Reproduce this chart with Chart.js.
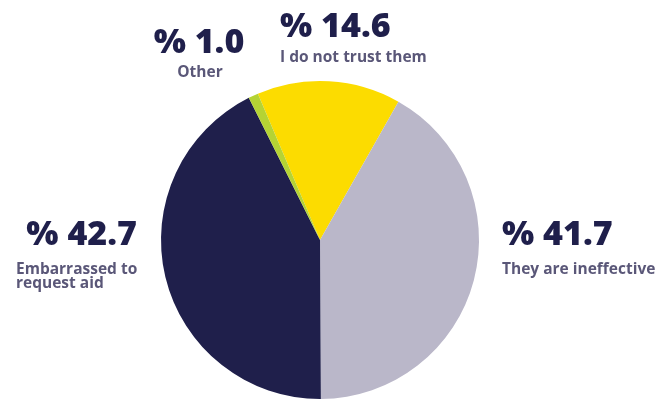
<!DOCTYPE html>
<html>
<head>
<meta charset="utf-8">
<script src="https://cdn.jsdelivr.net/npm/chart.js@4/dist/chart.umd.min.js"></script>
<style>
  body { margin: 0; background: #ffffff; }
  #wrap { width: 660px; height: 401px; position: relative; }
</style>
</head>
<body>
<div id="wrap"><canvas id="reasonsChart"></canvas></div>
<script>
// Reasons for not turning to aid organisations (percent)
const categories = ['I do not trust them', 'They are ineffective', 'Embarrassed to\nrequest aid', 'Other'];
const shares = [14.6, 41.7, 42.7, 1.0];
const sliceColors = ['#fcdc00', '#bab7c9', '#1f1f4b', '#b5d334'];

// Callout placement: value text (x, baseline, align) and caption (x, baseline, align)
const calloutSpots = [
  { vx: 280, vy: 37, vAlign: 'left', lx: 280, ly: 62, lAlign: 'left' },
  { vx: 502, vy: 245, vAlign: 'left', lx: 502, ly: 274, lAlign: 'left' },
  { vx: 137, vy: 245, vAlign: 'right', lx: 16, ly: 274, lAlign: 'left' },
  { vx: 199, vy: 53, vAlign: 'center', lx: 200, ly: 77, lAlign: 'center' }
];

const calloutPlugin = {
  id: 'callouts',
  afterDraw(chart) {
    const ctx = chart.ctx;
    const ds = chart.data.datasets[0];
    ctx.save();
    ctx.textBaseline = 'alphabetic';
    chart.data.labels.forEach((label, i) => {
      const spot = calloutSpots[i];
      ctx.textAlign = spot.vAlign;
      ctx.fillStyle = '#1f1f4b';
      ctx.font = '800 34px "Open Sans", sans-serif';
      ctx.fillText('% ' + ds.data[i].toFixed(1), spot.vx, spot.vy);
      ctx.textAlign = spot.lAlign;
      ctx.fillStyle = '#5a5778';
      ctx.font = 'bold 15.5px "Open Sans", sans-serif';
      label.split('\n').forEach((line, j) => {
        ctx.fillText(line, spot.lx, spot.ly + j * 13.5);
      });
    });
    ctx.restore();
  }
};

new Chart(document.getElementById('reasonsChart'), {
  type: 'pie',
  data: {
    labels: categories,
    datasets: [{
      data: shares,
      backgroundColor: sliceColors,
      borderWidth: 0
    }]
  },
  options: {
    responsive: true,
    maintainAspectRatio: false,
    animation: false,
    rotation: -23,
    layout: { padding: { left: 161, right: 181, top: 81, bottom: 2 } },
    plugins: {
      legend: { display: false },
      tooltip: { enabled: false }
    }
  },
  plugins: [calloutPlugin]
});
</script>
</body>
</html>
